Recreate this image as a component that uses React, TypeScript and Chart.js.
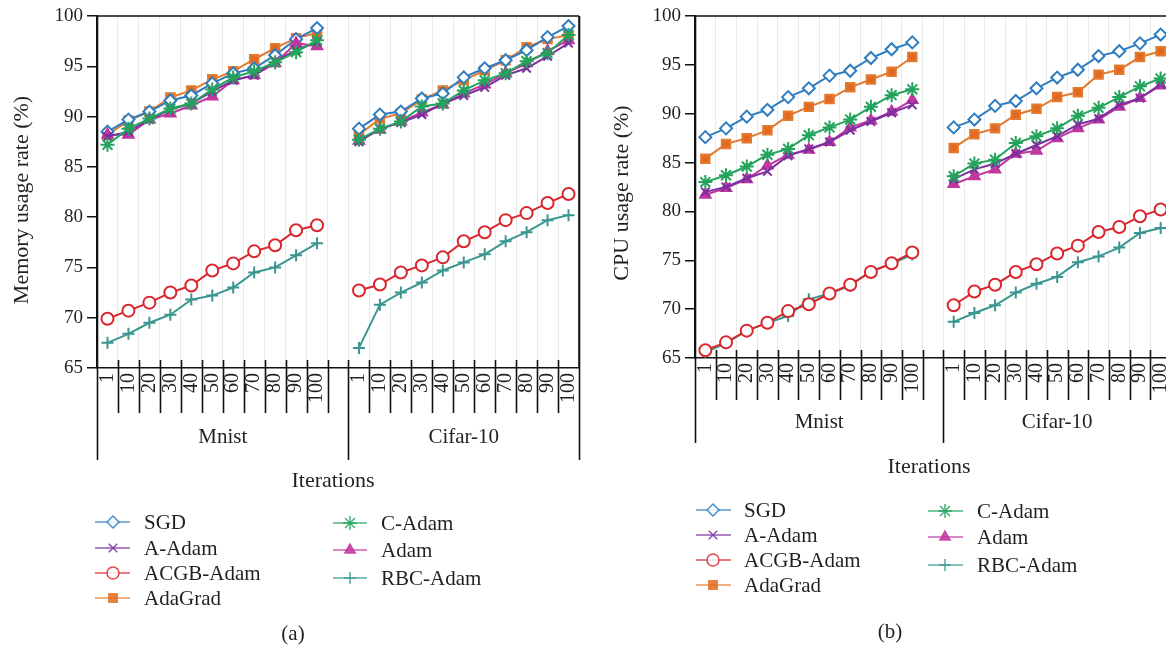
import React, { useEffect, useRef } from 'react';
import { Chart, registerables } from 'chart.js';
import { drawPoint } from 'chart.js/helpers';

Chart.register(...registerables);

const FONT = '"Liberation Serif", "Times New Roman", serif';
const TEXT = '#231f20';

// ---- categories ----
const iterations = ['1', '10', '20', '30', '40', '50', '60', '70', '80', '90', '100'];
const groups = ['Mnist', 'Cifar-10'];
const seriesNames = ['SGD', 'A-Adam', 'ACGB-Adam', 'AdaGrad', 'C-Adam', 'Adam', 'RBC-Adam'];
const yTicksMin = 65;
const yTicksMax = 100;
const yTickStep = 5;

// ---- (a) memory usage rate (%) ----
const memSGDMnist = [88.5, 89.7, 90.5, 91.6, 92.1, 93.3, 94.3, 94.8, 96.1, 97.7, 98.8];
const memSGDCifar = [88.8, 90.2, 90.5, 91.8, 92.3, 93.9, 94.8, 95.6, 96.6, 97.9, 99.0];
const memAAdamMnist = [88.0, 88.5, 89.7, 90.7, 91.3, 92.5, 93.6, 94.1, 95.5, 96.6, 97.4];
const memAAdamCifar = [87.5, 88.8, 89.4, 90.2, 91.3, 92.1, 92.9, 94.1, 94.8, 96.0, 97.3];
const memACGBMnist = [69.9, 70.7, 71.5, 72.5, 73.2, 74.7, 75.4, 76.6, 77.2, 78.7, 79.2];
const memACGBCifar = [72.7, 73.3, 74.5, 75.2, 76.0, 77.6, 78.5, 79.7, 80.4, 81.4, 82.3];
const memAdaGradMnist = [88.2, 89.6, 90.5, 91.9, 92.6, 93.7, 94.5, 95.7, 96.8, 97.8, 98.3];
const memAdaGradCifar = [88.2, 89.8, 90.3, 91.7, 92.6, 93.6, 94.6, 95.6, 96.9, 97.7, 98.1];
const memCAdamMnist = [87.2, 88.8, 89.8, 90.8, 91.3, 92.7, 93.9, 94.5, 95.4, 96.4, 97.6];
const memCAdamCifar = [87.7, 88.8, 89.5, 91.0, 91.3, 92.6, 93.6, 94.3, 95.5, 96.3, 98.1];
const memAdamMnist = [88.2, 88.2, 89.7, 90.3, 91.1, 92.0, 93.6, 94.1, 95.3, 97.3, 97.0];
const memAdamCifar = [87.6, 88.7, 89.5, 90.4, 91.2, 92.3, 93.2, 94.3, 95.3, 96.5, 97.6];
const memRBCMnist = [67.5, 68.4, 69.5, 70.3, 71.8, 72.2, 73.0, 74.5, 75.0, 76.2, 77.4];
const memRBCCifar = [67.0, 71.3, 72.5, 73.5, 74.7, 75.5, 76.3, 77.6, 78.5, 79.7, 80.2];

// ---- (b) CPU usage rate (%) ----
const cpuSGDMnist = [87.6, 88.5, 89.7, 90.4, 91.7, 92.6, 93.9, 94.4, 95.7, 96.6, 97.3];
const cpuSGDCifar = [88.6, 89.4, 90.8, 91.3, 92.6, 93.7, 94.5, 95.9, 96.4, 97.2, 98.1];
const cpuAAdamMnist = [82.0, 82.5, 83.4, 84.1, 85.7, 86.4, 87.1, 88.3, 89.2, 90.1, 90.9];
const cpuAAdamCifar = [83.3, 84.3, 84.9, 85.9, 86.8, 87.7, 88.9, 89.5, 90.9, 91.6, 93.0];
const cpuACGBMnist = [65.8, 66.6, 67.8, 68.6, 69.8, 70.5, 71.6, 72.5, 73.8, 74.7, 75.8];
const cpuACGBCifar = [70.4, 71.8, 72.5, 73.8, 74.6, 75.7, 76.5, 77.9, 78.4, 79.5, 80.2];
const cpuAdaGradMnist = [85.4, 86.9, 87.5, 88.3, 89.8, 90.7, 91.5, 92.7, 93.5, 94.3, 95.8];
const cpuAdaGradCifar = [86.5, 87.9, 88.5, 89.9, 90.5, 91.7, 92.2, 94.0, 94.5, 95.8, 96.4];
const cpuCAdamMnist = [83.0, 83.7, 84.6, 85.8, 86.4, 87.8, 88.6, 89.4, 90.7, 91.9, 92.5];
const cpuCAdamCifar = [83.6, 84.9, 85.3, 87.0, 87.7, 88.5, 89.8, 90.6, 91.7, 92.8, 93.6];
const cpuAdamMnist = [81.7, 82.4, 83.3, 84.7, 85.8, 86.3, 87.1, 88.6, 89.3, 90.2, 91.4];
const cpuAdamCifar = [82.8, 83.6, 84.3, 85.9, 86.2, 87.5, 88.5, 89.4, 90.7, 91.6, 92.9];
const cpuRBCMnist = [65.6, 66.5, 67.8, 68.6, 69.3, 71.0, 71.6, 72.4, 73.9, 74.6, 75.6];
const cpuRBCCifar = [68.7, 69.6, 70.4, 71.7, 72.6, 73.3, 74.8, 75.4, 76.3, 77.8, 78.3];

// ---- styles (one per series) ----
const seriesStyles = [
  { color: '#2f7dc0', fill: '#ffffff', pointStyle: 'rectRot', radius: 6, order: 3 },
  { color: '#7b2fa0', fill: '#7b2fa0', pointStyle: 'crossRot', radius: 6, order: 1 },
  { color: '#d9272e', fill: '#ffffff', pointStyle: 'circle', radius: 6, order: 2 },
  { color: '#e37a2e', fill: '#e06a22', pointStyle: 'rect', radius: 6, order: 4 },
  { color: '#23a35c', fill: '#23a35c', pointStyle: 'star', radius: 7, order: 0 },
  { color: '#c2379f', fill: '#c2379f', pointStyle: 'triangle', radius: 6, order: 2 },
  { color: '#3a9690', fill: '#3a9690', pointStyle: 'cross', radius: 6, order: 3 },
];

const xLabels = [...iterations, '', ...iterations];
const joinGroups = (m: number[], c: number[]) => [...m, null, ...c];

type PanelSpec = {
  left: number;
  width: number;
  yTitle: string;
  mnist: number[][];
  cifar: number[][];
  area: { left: number; right: number; top: number; bottom: number };
  shortTick: number;
  longTick: number;
  groupY: number;
  xTitle: { x: number; y: number };
  yTitlePos: { x: number; y: number };
  legend: {
    cols: { lineX1: number; lineX2: number; markerX: number; textX: number; rows: number[] }[];
  };
  caption: { text: string; x: number; y: number };
};

const H = 648;

const panelA: PanelSpec = {
  left: 0,
  width: 600,
  yTitle: 'Memory usage rate (%)',
  mnist: [memSGDMnist, memAAdamMnist, memACGBMnist, memAdaGradMnist, memCAdamMnist, memAdamMnist, memRBCMnist],
  cifar: [memSGDCifar, memAAdamCifar, memACGBCifar, memAdaGradCifar, memCAdamCifar, memAdamCifar, memRBCCifar],
  area: { left: 97, right: 579, top: 16, bottom: 368 },
  shortTick: 45,
  longTick: 92,
  groupY: 69,
  xTitle: { x: 333, y: 481 },
  yTitlePos: { x: 22, y: 200 },
  legend: {
    cols: [
      { lineX1: 95, lineX2: 130, markerX: 113, textX: 144, rows: [522, 548, 573, 598] },
      { lineX1: 333, lineX2: 367, markerX: 350, textX: 381, rows: [523, 550, 578] },
    ],
  },
  caption: { text: '(a)', x: 293, y: 634 },
};

const panelB: PanelSpec = {
  left: 600,
  width: 580,
  yTitle: 'CPU usage rate (%)',
  mnist: [cpuSGDMnist, cpuAAdamMnist, cpuACGBMnist, cpuAdaGradMnist, cpuCAdamMnist, cpuAdamMnist, cpuRBCMnist],
  cifar: [cpuSGDCifar, cpuAAdamCifar, cpuACGBCifar, cpuAdaGradCifar, cpuCAdamCifar, cpuAdamCifar, cpuRBCCifar],
  area: { left: 95, right: 572, top: 16, bottom: 358 },
  shortTick: 42,
  longTick: 85,
  groupY: 64,
  xTitle: { x: 329, y: 467 },
  yTitlePos: { x: 22, y: 193 },
  legend: {
    cols: [
      { lineX1: 96, lineX2: 131, markerX: 113, textX: 144, rows: [510, 535, 560, 585] },
      { lineX1: 328, lineX2: 363, markerX: 345, textX: 377, rows: [511, 537, 565] },
    ],
  },
  caption: { text: '(b)', x: 290, y: 632 },
};

function makeExtras(spec: PanelSpec) {
  return {
    id: 'extras',
    afterDraw(chart: any) {
      const ctx: CanvasRenderingContext2D = chart.ctx;
      const a = chart.chartArea;
      const xs = chart.scales.x;
      const n = xLabels.length;
      const half = (xs.getPixelForTick(1) - xs.getPixelForTick(0)) / 2;
      const boundary = (i: number) => (i < n ? xs.getPixelForTick(i) - half : xs.getPixelForTick(n - 1) + half);
      const groupBounds = [0, iterations.length + 1, n];

      ctx.save();
      ctx.strokeStyle = '#111';
      ctx.lineWidth = 1.6;
      ctx.beginPath();
      ctx.moveTo(a.left, a.top);
      ctx.lineTo(a.right, a.top);
      ctx.moveTo(a.right, a.top);
      ctx.lineTo(a.right, a.bottom);
      for (let i = 0; i <= n; i++) {
        const bx = Math.round(boundary(i)) + 0.5;
        if (groupBounds.includes(i)) {
          ctx.moveTo(bx, i === 0 || i === n ? a.top : a.bottom - 8);
          ctx.lineTo(bx, a.bottom + spec.longTick);
        } else {
          ctx.moveTo(bx, a.bottom - 8);
          ctx.lineTo(bx, a.bottom + spec.shortTick);
        }
      }
      ctx.stroke();

      // group labels
      ctx.fillStyle = TEXT;
      ctx.font = `21px ${FONT}`;
      ctx.textAlign = 'center';
      ctx.textBaseline = 'middle';
      for (let g = 0; g < groups.length; g++) {
        const cx = (boundary(groupBounds[g]) + boundary(groupBounds[g + 1])) / 2;
        ctx.fillText(groups[g], cx, a.bottom + spec.groupY);
      }
      // axis titles
      ctx.font = `22px ${FONT}`;
      ctx.fillText('Iterations', spec.xTitle.x, spec.xTitle.y);
      ctx.save();
      ctx.translate(spec.yTitlePos.x, spec.yTitlePos.y);
      ctx.rotate(-Math.PI / 2);
      ctx.fillText(spec.yTitle, 0, 0);
      ctx.restore();

      // legend
      let k = 0;
      for (const col of spec.legend.cols) {
        for (const ry of col.rows) {
          const st = seriesStyles[k];
          ctx.save();
          ctx.globalAlpha = 0.6;
          ctx.strokeStyle = st.color;
          ctx.lineWidth = 2;
          ctx.beginPath();
          ctx.moveTo(col.lineX1, ry);
          ctx.lineTo(col.lineX2, ry);
          ctx.stroke();
          ctx.globalAlpha = 0.85;
          ctx.fillStyle = st.fill;
          ctx.strokeStyle = st.color;
          ctx.lineWidth = 1.5;
          drawPoint(ctx, { pointStyle: st.pointStyle as any, radius: st.radius, rotation: 0, borderWidth: 1.5 }, col.markerX, ry);
          ctx.restore();
          ctx.fillStyle = TEXT;
          ctx.font = `21px ${FONT}`;
          ctx.textAlign = 'left';
          ctx.textBaseline = 'middle';
          ctx.fillText(seriesNames[k], col.textX, ry + 1);
          k++;
        }
      }
      // caption
      ctx.textAlign = 'center';
      ctx.font = `21px ${FONT}`;
      ctx.fillText(spec.caption.text, spec.caption.x, spec.caption.y);
      ctx.restore();
    },
  };
}

function buildConfig(spec: PanelSpec): any {
  return {
    type: 'line',
    data: {
      labels: xLabels,
      datasets: seriesNames.map((name, k) => ({
        label: name,
        data: joinGroups(spec.mnist[k], spec.cifar[k]),
        borderColor: seriesStyles[k].color,
        backgroundColor: seriesStyles[k].fill,
        pointStyle: seriesStyles[k].pointStyle,
        pointRadius: seriesStyles[k].radius,
        pointBorderWidth: 2,
        pointBorderColor: seriesStyles[k].color,
        pointBackgroundColor: seriesStyles[k].fill,
        borderWidth: 2,
        spanGaps: false,
        tension: 0,
        order: seriesStyles[k].order,
      })),
    },
    options: {
      responsive: false,
      animation: false,
      devicePixelRatio: 1,
      layout: { padding: { left: 0, top: spec.area.top, right: spec.width - spec.area.right, bottom: 0 } },
      plugins: { legend: { display: false }, tooltip: { enabled: false } },
      scales: {
        x: {
          type: 'category',
          offset: true,
          grid: { offset: true, color: '#e9e9e9', lineWidth: 1, drawTicks: false },
          border: { display: true, color: '#111', width: 1.6 },
          ticks: {
            autoSkip: false,
            maxRotation: 90,
            minRotation: 90,
            padding: 5,
            color: TEXT,
            font: { family: FONT, size: 20 },
          },
          afterFit: (s: any) => {
            s.height = H - spec.area.bottom;
            s.paddingLeft = 0;
            s.paddingRight = 0;
          },
        },
        y: {
          min: yTicksMin,
          max: yTicksMax,
          ticks: { stepSize: yTickStep, color: TEXT, padding: 4, font: { family: FONT, size: 19 } },
          grid: { drawOnChartArea: false, drawTicks: true, tickLength: 10, color: '#111', lineWidth: 1.5 },
          border: { display: true, color: '#111', width: 1.6 },
          afterFit: (s: any) => {
            s.width = spec.area.left;
            s.paddingTop = 0;
            s.paddingBottom = 0;
          },
        },
      },
    },
    plugins: [makeExtras(spec)],
  };
}

function Panel({ spec }: { spec: PanelSpec }) {
  const ref = useRef<HTMLCanvasElement>(null);
  useEffect(() => {
    const chart = new Chart(ref.current as HTMLCanvasElement, buildConfig(spec));
    return () => chart.destroy();
  }, [spec]);
  return (
    <canvas
      ref={ref}
      width={spec.width}
      height={H}
      style={{ position: 'absolute', left: spec.left, top: 0, width: spec.width, height: H }}
    />
  );
}

export default function App() {
  return (
    <div
      style={{
        position: 'fixed',
        left: 0,
        top: 0,
        width: 1166,
        height: H,
        overflow: 'hidden',
        background: '#ffffff',
      }}
    >
      <Panel spec={panelA} />
      <Panel spec={panelB} />
    </div>
  );
}
